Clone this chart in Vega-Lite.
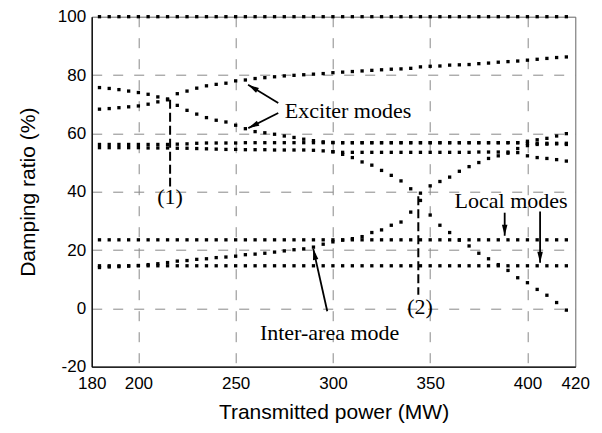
{
  "$schema": "https://vega.github.io/schema/vega-lite/v6.json",
  "width": 483.6,
  "height": 350,
  "autosize": {"type": "none"},
  "padding": {"left": 91.7, "top": 16.7, "right": 26.7, "bottom": 66.3},
  "background": "white",
  "config": {
    "view": {"stroke": "#666", "strokeWidth": 1},
    "axis": {
      "labelFont": "Liberation Sans",
      "labelFontSize": 17,
      "labelColor": "#000",
      "titleFont": "Liberation Sans",
      "titleFontSize": 21,
      "titleFontWeight": "normal",
      "titleColor": "#000",
      "domainColor": "#000",
      "domainWidth": 1.3,
      "ticks": false,
      "gridColor": "#888",
      "gridWidth": 1,
      "gridDash": [10, 11],
      "labelOverlap": false,
      "labelFlush": false
    }
  },
  "datasets": {
    "modes": [
      {"power":180,"s100":100,"exu":75.7,"exl":68.3,"ma":56.2,"mb":55.1,"d":null,"ia":14.0,"la":23.5,"lb":14.6},
      {"power":185,"s100":100,"exu":75.4,"exl":68.5,"ma":56.2,"mb":55.1,"d":null,"ia":14.2,"la":23.5,"lb":14.6},
      {"power":190,"s100":100,"exu":75.0,"exl":68.8,"ma":56.2,"mb":55.1,"d":null,"ia":14.3,"la":23.5,"lb":14.6},
      {"power":195,"s100":100,"exu":74.5,"exl":69.1,"ma":56.2,"mb":55.1,"d":null,"ia":14.5,"la":23.5,"lb":14.6},
      {"power":200,"s100":100,"exu":74.0,"exl":69.4,"ma":56.2,"mb":55.1,"d":null,"ia":14.7,"la":23.5,"lb":14.6},
      {"power":205,"s100":100,"exu":73.4,"exl":70.0,"ma":56.2,"mb":55.0,"d":null,"ia":15.0,"la":23.5,"lb":14.6},
      {"power":210,"s100":100,"exu":72.5,"exl":70.8,"ma":56.2,"mb":55.0,"d":null,"ia":15.3,"la":23.5,"lb":14.6},
      {"power":215,"s100":100,"exu":71.8,"exl":71.5,"ma":56.2,"mb":55.0,"d":null,"ia":15.7,"la":23.5,"lb":14.6},
      {"power":220,"s100":100,"exu":73.6,"exl":69.6,"ma":56.3,"mb":54.9,"d":null,"ia":16.2,"la":23.5,"lb":14.6},
      {"power":225,"s100":100,"exu":74.5,"exl":67.9,"ma":56.4,"mb":54.9,"d":null,"ia":16.4,"la":23.5,"lb":14.6},
      {"power":230,"s100":100,"exu":75.5,"exl":66.6,"ma":56.6,"mb":54.8,"d":null,"ia":16.8,"la":23.5,"lb":14.6},
      {"power":235,"s100":100,"exu":76.3,"exl":65.4,"ma":56.7,"mb":54.7,"d":null,"ia":17.0,"la":23.5,"lb":14.6},
      {"power":240,"s100":100,"exu":76.8,"exl":64.5,"ma":56.7,"mb":54.6,"d":null,"ia":17.4,"la":23.5,"lb":14.6},
      {"power":245,"s100":100,"exu":77.2,"exl":63.9,"ma":56.7,"mb":54.5,"d":null,"ia":17.6,"la":23.5,"lb":14.6},
      {"power":250,"s100":100,"exu":78.0,"exl":62.8,"ma":56.7,"mb":54.5,"d":null,"ia":17.9,"la":23.5,"lb":14.6},
      {"power":255,"s100":100,"exu":78.3,"exl":61.6,"ma":56.8,"mb":54.4,"d":null,"ia":18.4,"la":23.5,"lb":14.6},
      {"power":260,"s100":100,"exu":78.8,"exl":60.6,"ma":56.8,"mb":54.4,"d":null,"ia":18.6,"la":23.5,"lb":14.6},
      {"power":265,"s100":100,"exu":79.1,"exl":60.2,"ma":56.8,"mb":54.4,"d":null,"ia":18.9,"la":23.5,"lb":14.6},
      {"power":270,"s100":100,"exu":79.4,"exl":59.7,"ma":56.8,"mb":54.3,"d":null,"ia":19.3,"la":23.5,"lb":14.6},
      {"power":275,"s100":100,"exu":79.7,"exl":59.1,"ma":56.8,"mb":54.3,"d":null,"ia":19.7,"la":23.5,"lb":14.6},
      {"power":280,"s100":100,"exu":79.9,"exl":58.6,"ma":56.8,"mb":54.3,"d":null,"ia":20.1,"la":23.5,"lb":14.6},
      {"power":285,"s100":100,"exu":80.1,"exl":58.0,"ma":56.8,"mb":54.3,"d":null,"ia":20.4,"la":23.5,"lb":14.6},
      {"power":290,"s100":100,"exu":80.3,"exl":57.5,"ma":56.8,"mb":54.2,"d":null,"ia":21.0,"la":23.5,"lb":14.6},
      {"power":295,"s100":100,"exu":80.5,"exl":57.1,"ma":56.8,"mb":54.0,"d":null,"ia":22.0,"la":23.5,"lb":14.6},
      {"power":300,"s100":100,"exu":80.8,"exl":56.9,"ma":56.8,"mb":53.7,"d":53.7,"ia":22.8,"la":23.5,"lb":14.6},
      {"power":305,"s100":100,"exu":81.0,"exl":56.8,"ma":56.8,"mb":53.5,"d":52.8,"ia":23.4,"la":23.5,"lb":14.6},
      {"power":310,"s100":100,"exu":81.2,"exl":56.8,"ma":56.8,"mb":53.5,"d":51.7,"ia":23.9,"la":23.5,"lb":14.6},
      {"power":315,"s100":100,"exu":81.4,"exl":56.8,"ma":56.8,"mb":53.5,"d":50.2,"ia":24.6,"la":23.5,"lb":14.6},
      {"power":320,"s100":100,"exu":81.6,"exl":56.8,"ma":56.8,"mb":53.5,"d":49.1,"ia":26.0,"la":23.5,"lb":14.6},
      {"power":325,"s100":100,"exu":81.8,"exl":56.8,"ma":56.8,"mb":53.5,"d":47.3,"ia":26.9,"la":23.5,"lb":14.6},
      {"power":330,"s100":100,"exu":82.0,"exl":56.8,"ma":56.8,"mb":53.5,"d":45.6,"ia":28.5,"la":23.5,"lb":14.6},
      {"power":335,"s100":100,"exu":82.1,"exl":56.8,"ma":56.8,"mb":53.5,"d":43.7,"ia":29.6,"la":23.5,"lb":14.6},
      {"power":340,"s100":100,"exu":82.3,"exl":56.8,"ma":56.8,"mb":53.5,"d":41.0,"ia":33.0,"la":23.5,"lb":14.6},
      {"power":345,"s100":100,"exu":82.8,"exl":56.8,"ma":56.8,"mb":53.5,"d":39.5,"ia":37.0,"la":23.5,"lb":14.6},
      {"power":350,"s100":100,"exu":83.0,"exl":56.8,"ma":56.8,"mb":53.5,"d":32.0,"ia":42.0,"la":23.5,"lb":14.6},
      {"power":355,"s100":100,"exu":83.1,"exl":56.8,"ma":56.8,"mb":53.5,"d":28.5,"ia":43.5,"la":23.5,"lb":14.6},
      {"power":360,"s100":100,"exu":83.4,"exl":56.8,"ma":56.8,"mb":53.5,"d":26.0,"ia":45.0,"la":23.5,"lb":14.6},
      {"power":365,"s100":100,"exu":83.5,"exl":56.8,"ma":56.8,"mb":53.5,"d":23.4,"ia":47.0,"la":23.5,"lb":14.6},
      {"power":370,"s100":100,"exu":83.6,"exl":56.8,"ma":56.8,"mb":53.5,"d":21.4,"ia":48.6,"la":23.5,"lb":14.6},
      {"power":375,"s100":100,"exu":83.9,"exl":56.8,"ma":56.8,"mb":53.6,"d":18.9,"ia":50.0,"la":23.5,"lb":14.6},
      {"power":380,"s100":100,"exu":84.1,"exl":56.8,"ma":56.8,"mb":53.6,"d":17.0,"ia":51.4,"la":23.5,"lb":14.6},
      {"power":385,"s100":100,"exu":84.4,"exl":56.8,"ma":56.8,"mb":53.6,"d":15.0,"ia":52.3,"la":23.5,"lb":14.6},
      {"power":390,"s100":100,"exu":84.6,"exl":56.8,"ma":56.8,"mb":53.6,"d":13.0,"ia":53.2,"la":23.5,"lb":14.6},
      {"power":395,"s100":100,"exu":84.8,"exl":56.8,"ma":56.8,"mb":53.4,"d":10.5,"ia":54.8,"la":23.5,"lb":14.6},
      {"power":400,"s100":100,"exu":85.1,"exl":57.3,"ma":56.6,"mb":52.3,"d":8.8,"ia":55.8,"la":23.5,"lb":14.6},
      {"power":405,"s100":100,"exu":85.4,"exl":57.8,"ma":56.6,"mb":51.7,"d":6.5,"ia":56.2,"la":23.5,"lb":14.6},
      {"power":410,"s100":100,"exu":85.7,"exl":58.3,"ma":56.6,"mb":51.4,"d":4.5,"ia":56.3,"la":23.5,"lb":14.6},
      {"power":415,"s100":100,"exu":86.0,"exl":59.1,"ma":56.6,"mb":51.0,"d":2.0,"ia":56.4,"la":23.5,"lb":14.6},
      {"power":420,"s100":100,"exu":86.2,"exl":59.9,"ma":56.6,"mb":50.5,"d":-0.6,"ia":56.2,"la":23.5,"lb":14.6}
    ],
    "markers": [
      {"label": "(1)", "power": 216.3, "top": 71.5, "bottom": 41.8},
      {"label": "(2)", "power": 343.9, "top": 38.4, "bottom": 4.7}
    ],
    "arrows": [
      {"id": "e1", "power": 271.9, "ratio": 70.4, "power2": 256.4, "ratio2": 76.7},
      {"id": "e2", "power": 271.9, "ratio": 67.0, "power2": 256.5, "ratio2": 61.8},
      {"id": "ia", "power": 297.1, "ratio": -1.0, "power2": 289.9, "ratio2": 20.4},
      {"id": "l1", "power": 388.3, "ratio": 32.8, "power2": 388.3, "ratio2": 24.9},
      {"id": "l2", "power": 406.5, "ratio": 33.2, "power2": 406.5, "ratio2": 15.6}
    ],
    "notes": [
      {"text": "Exciter modes", "power": 307.8, "ratio": 65.4},
      {"text": "(1)", "power": 216.3, "ratio": 35.7},
      {"text": "(2)", "power": 344.8, "ratio": -2.0},
      {"text": "Local modes", "power": 391.6, "ratio": 34.5},
      {"text": "Inter-area mode", "power": 298.3, "ratio": -10.7}
    ]
  },
  "layer": [
    {
      "data": {"name": "modes"},
      "transform": [
        {"fold": ["s100", "exu", "exl", "ma", "mb", "d", "ia", "la", "lb"], "as": ["mode", "ratio"]},
        {"filter": "isValid(datum.ratio)"}
      ],
      "mark": {"type": "point", "shape": "square", "filled": true, "size": 11, "color": "#000", "opacity": 1, "strokeWidth": 0},
      "encoding": {
        "x": {
          "field": "power", "type": "quantitative",
          "scale": {"domain": [176, 424.6], "nice": false, "zero": false},
          "axis": {
            "title": "Transmitted power (MW)",
            "values": [176, 200, 250, 300, 350, 400, 424.6],
            "labelExpr": "datum.value < 180 ? '180' : (datum.value > 420 ? '420' : datum.label)",
            "grid": true,
            "gridOpacity": {"condition": {"test": "datum.value < 180 || datum.value > 420", "value": 0}, "value": 1},
            "labelPadding": 9,
            "titlePadding": 10
          }
        },
        "y": {
          "field": "ratio", "type": "quantitative",
          "scale": {"domain": [-20, 100], "nice": false, "zero": false},
          "axis": {
            "title": "Damping ratio (%)",
            "values": [-20, 0, 20, 40, 60, 80, 100],
            "labelExpr": "'' + datum.value",
            "grid": true,
            "gridOpacity": {"condition": {"test": "datum.value < -10 || datum.value > 90", "value": 0}, "value": 1},
            "labelPadding": 6,
            "titlePadding": 19
          }
        }
      }
    },
    {
      "data": {"name": "markers"},
      "mark": {"type": "rule", "color": "#000", "strokeWidth": 2, "strokeDash": [9, 4]},
      "encoding": {
        "x": {"field": "power", "type": "quantitative"},
        "y": {"field": "top", "type": "quantitative"},
        "y2": {"field": "bottom"}
      }
    },
    {
      "data": {"name": "arrows"},
      "mark": {"type": "rule", "color": "#000", "strokeWidth": 1.8},
      "encoding": {
        "x": {"field": "power", "type": "quantitative"},
        "y": {"field": "ratio", "type": "quantitative"},
        "x2": {"field": "power2"},
        "y2": {"field": "ratio2"}
      }
    },
    {
      "data": {"name": "arrows"},
      "transform": [{"filter": "datum.id === 'e1'"}],
      "mark": {"type": "point", "shape": "M0,0L-0.55,2.2L0.55,2.2Z", "filled": true, "size": 100, "color": "#000", "opacity": 1, "angle": -58.6},
      "encoding": {
        "x": {"field": "power2", "type": "quantitative"},
        "y": {"field": "ratio2", "type": "quantitative"}
      }
    },
    {
      "data": {"name": "arrows"},
      "transform": [{"filter": "datum.id === 'e2'"}],
      "mark": {"type": "point", "shape": "M0,0L-0.55,2.2L0.55,2.2Z", "filled": true, "size": 100, "color": "#000", "opacity": 1, "angle": -116.6},
      "encoding": {
        "x": {"field": "power2", "type": "quantitative"},
        "y": {"field": "ratio2", "type": "quantitative"}
      }
    },
    {
      "data": {"name": "arrows"},
      "transform": [{"filter": "datum.id === 'ia'"}],
      "mark": {"type": "point", "shape": "M0,0L-0.55,2.2L0.55,2.2Z", "filled": true, "size": 100, "color": "#000", "opacity": 1, "angle": -12.6},
      "encoding": {
        "x": {"field": "power2", "type": "quantitative"},
        "y": {"field": "ratio2", "type": "quantitative"}
      }
    },
    {
      "data": {"name": "arrows"},
      "transform": [{"filter": "datum.id === 'l1' || datum.id === 'l2'"}],
      "mark": {"type": "point", "shape": "M0,0L-0.55,2.2L0.55,2.2Z", "filled": true, "size": 100, "color": "#000", "opacity": 1, "angle": 180},
      "encoding": {
        "x": {"field": "power2", "type": "quantitative"},
        "y": {"field": "ratio2", "type": "quantitative"}
      }
    },
    {
      "data": {"name": "notes"},
      "mark": {"type": "text", "font": "Liberation Serif", "fontSize": 22, "color": "#000", "align": "center", "baseline": "alphabetic"},
      "encoding": {
        "x": {"field": "power", "type": "quantitative"},
        "y": {"field": "ratio", "type": "quantitative"},
        "text": {"field": "text"}
      }
    }
  ]
}
